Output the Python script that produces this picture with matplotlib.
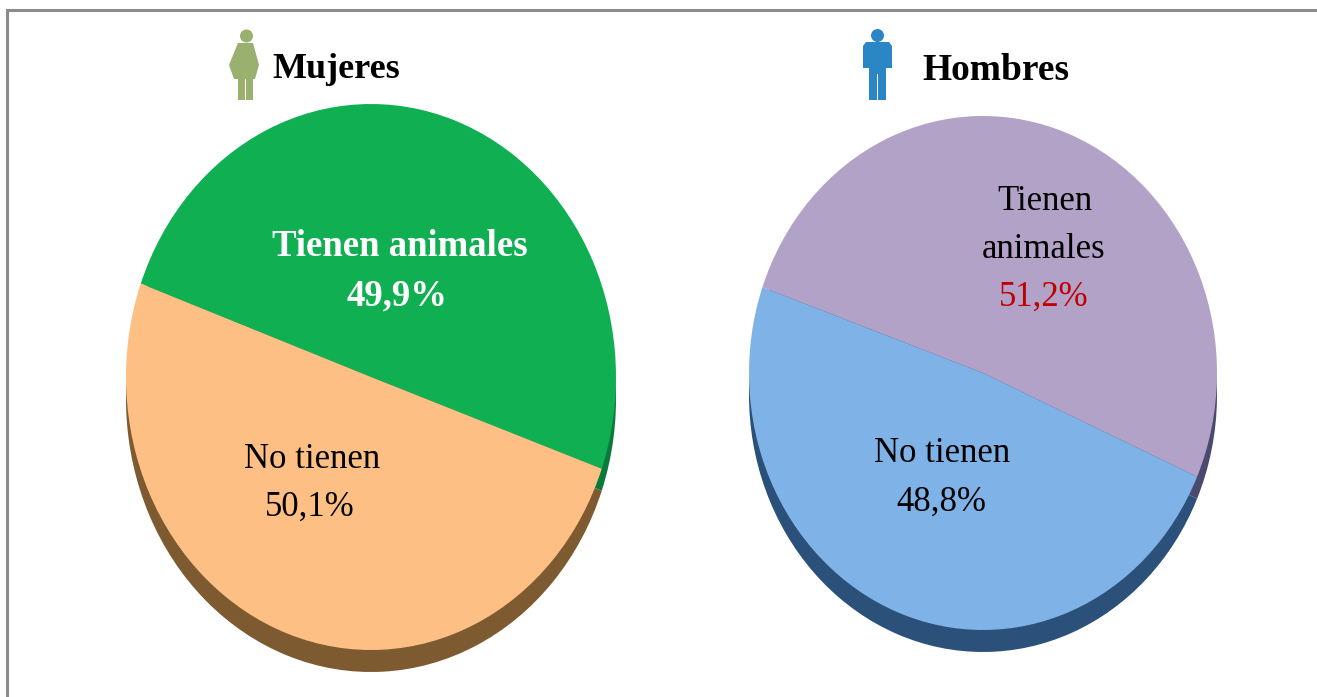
import matplotlib
matplotlib.use("Agg")
import matplotlib.pyplot as plt
from matplotlib.patches import Rectangle, Polygon, Circle

W, H = 1317, 697

# --- Data ---
categories = ["Tienen animales", "No tienen"]
mujeres = [49.9, 50.1]
hombres = [51.2, 48.8]
titles = ["Mujeres", "Hombres"]

plt.rcParams['font.family'] = ['Liberation Serif', 'DejaVu Serif']

fig = plt.figure(figsize=(W / 100, H / 100), dpi=100)
fig.patch.set_facecolor("white")

# overlay in pixel coords, for the frame, icons and text
over = fig.add_axes([0, 0, 1, 1], zorder=5)
over.set_xlim(0, W)
over.set_ylim(H, 0)
over.axis('off')
over.patch.set_alpha(0)


def pie_axes(cx, cy, rx, ry, dy=0, z=1):
    ax = fig.add_axes([(cx - rx) / W, 1 - (cy + ry + dy) / H, 2 * rx / W, 2 * ry / H], zorder=z)
    return ax


def draw_pie(ax, values, colors, start):
    ax.pie(values, colors=colors, startangle=start, counterclock=False, radius=1,
           wedgeprops={'linewidth': 0})
    ax.set_aspect('auto')
    ax.set_xlim(-1, 1)
    ax.set_ylim(-1, 1)


# --- Left pie ---
cx, cy, rx, ry = 371, 377, 245, 273
draw_pie(pie_axes(cx, cy, rx, ry, dy=22, z=1), mujeres, ['#0a7a3a', '#7d5a30'], 160)
draw_pie(pie_axes(cx, cy, rx, ry, z=2), mujeres, ['#10b052', '#fdbf84'], 160)

# --- Right pie ---
cx, cy, rx, ry = 983, 373, 234, 257
draw_pie(pie_axes(cx, cy, rx, ry, dy=22, z=1), hombres, ['#4a4a6e', '#2b5079'], 160.5)
draw_pie(pie_axes(cx, cy, rx, ry, z=2), hombres, ['#b3a2c8', '#7fb2e6'], 160.5)

# --- Frame (left and top only, the rest is cut off) ---
over.plot([6.8, 6.8, W], [H, 10, 10], color='#8c8c8c', lw=2.2, solid_joinstyle='miter')

# --- Icons ---
green = '#9ab06e'
over.add_patch(Circle((246.5, 36), 6.5, fc=green, ec='none'))
over.add_patch(Polygon([(238, 43), (253, 43), (259, 65), (255, 79), (234, 79), (229, 65)], fc=green, ec='none'))
over.add_patch(Rectangle((238, 79), 7, 21, fc=green, ec='none'))
over.add_patch(Rectangle((246, 79), 7, 21, fc=green, ec='none'))

blue = '#2a86c4'
over.add_patch(Circle((877.5, 35.5), 6.5, fc=blue, ec='none'))
over.add_patch(Polygon([(866, 42), (889, 42), (892, 46), (892, 68), (886, 68), (886, 74),
                        (869, 74), (869, 68), (863, 68), (863, 46)], fc=blue, ec='none'))
over.add_patch(Rectangle((869, 74), 8, 26, fc=blue, ec='none'))
over.add_patch(Rectangle((878, 74), 8, 26, fc=blue, ec='none'))

# --- Text ---
over.text(336, 70, titles[0], fontsize=26, fontweight='bold', ha='center', va='center')
over.text(996, 71, titles[1], fontsize=27, fontweight='bold', ha='center', va='center')


def pct(v):
    return f"{v:.1f}%".replace('.', ',')


over.text(400, 247, categories[0], color='white', fontsize=26.5, fontweight='bold', ha='center', va='center')
over.text(397, 296, pct(mujeres[0]), color='white', fontsize=26.5, fontweight='bold', ha='center', va='center')
over.text(312, 460, categories[1], fontsize=25, ha='center', va='center')
over.text(310, 507, pct(mujeres[1]), fontsize=25, ha='center', va='center')

over.text(1045, 202, "Tienen", fontsize=25, ha='center', va='center')
over.text(1044, 249, "animales", fontsize=25, ha='center', va='center')
over.text(1044, 297, pct(hombres[0]), color='#c00000', fontsize=25, ha='center', va='center')
over.text(942, 453, categories[1], fontsize=25, ha='center', va='center')
over.text(941, 502, pct(hombres[1]), fontsize=25, ha='center', va='center')

fig.savefig("out.png", dpi=100)
